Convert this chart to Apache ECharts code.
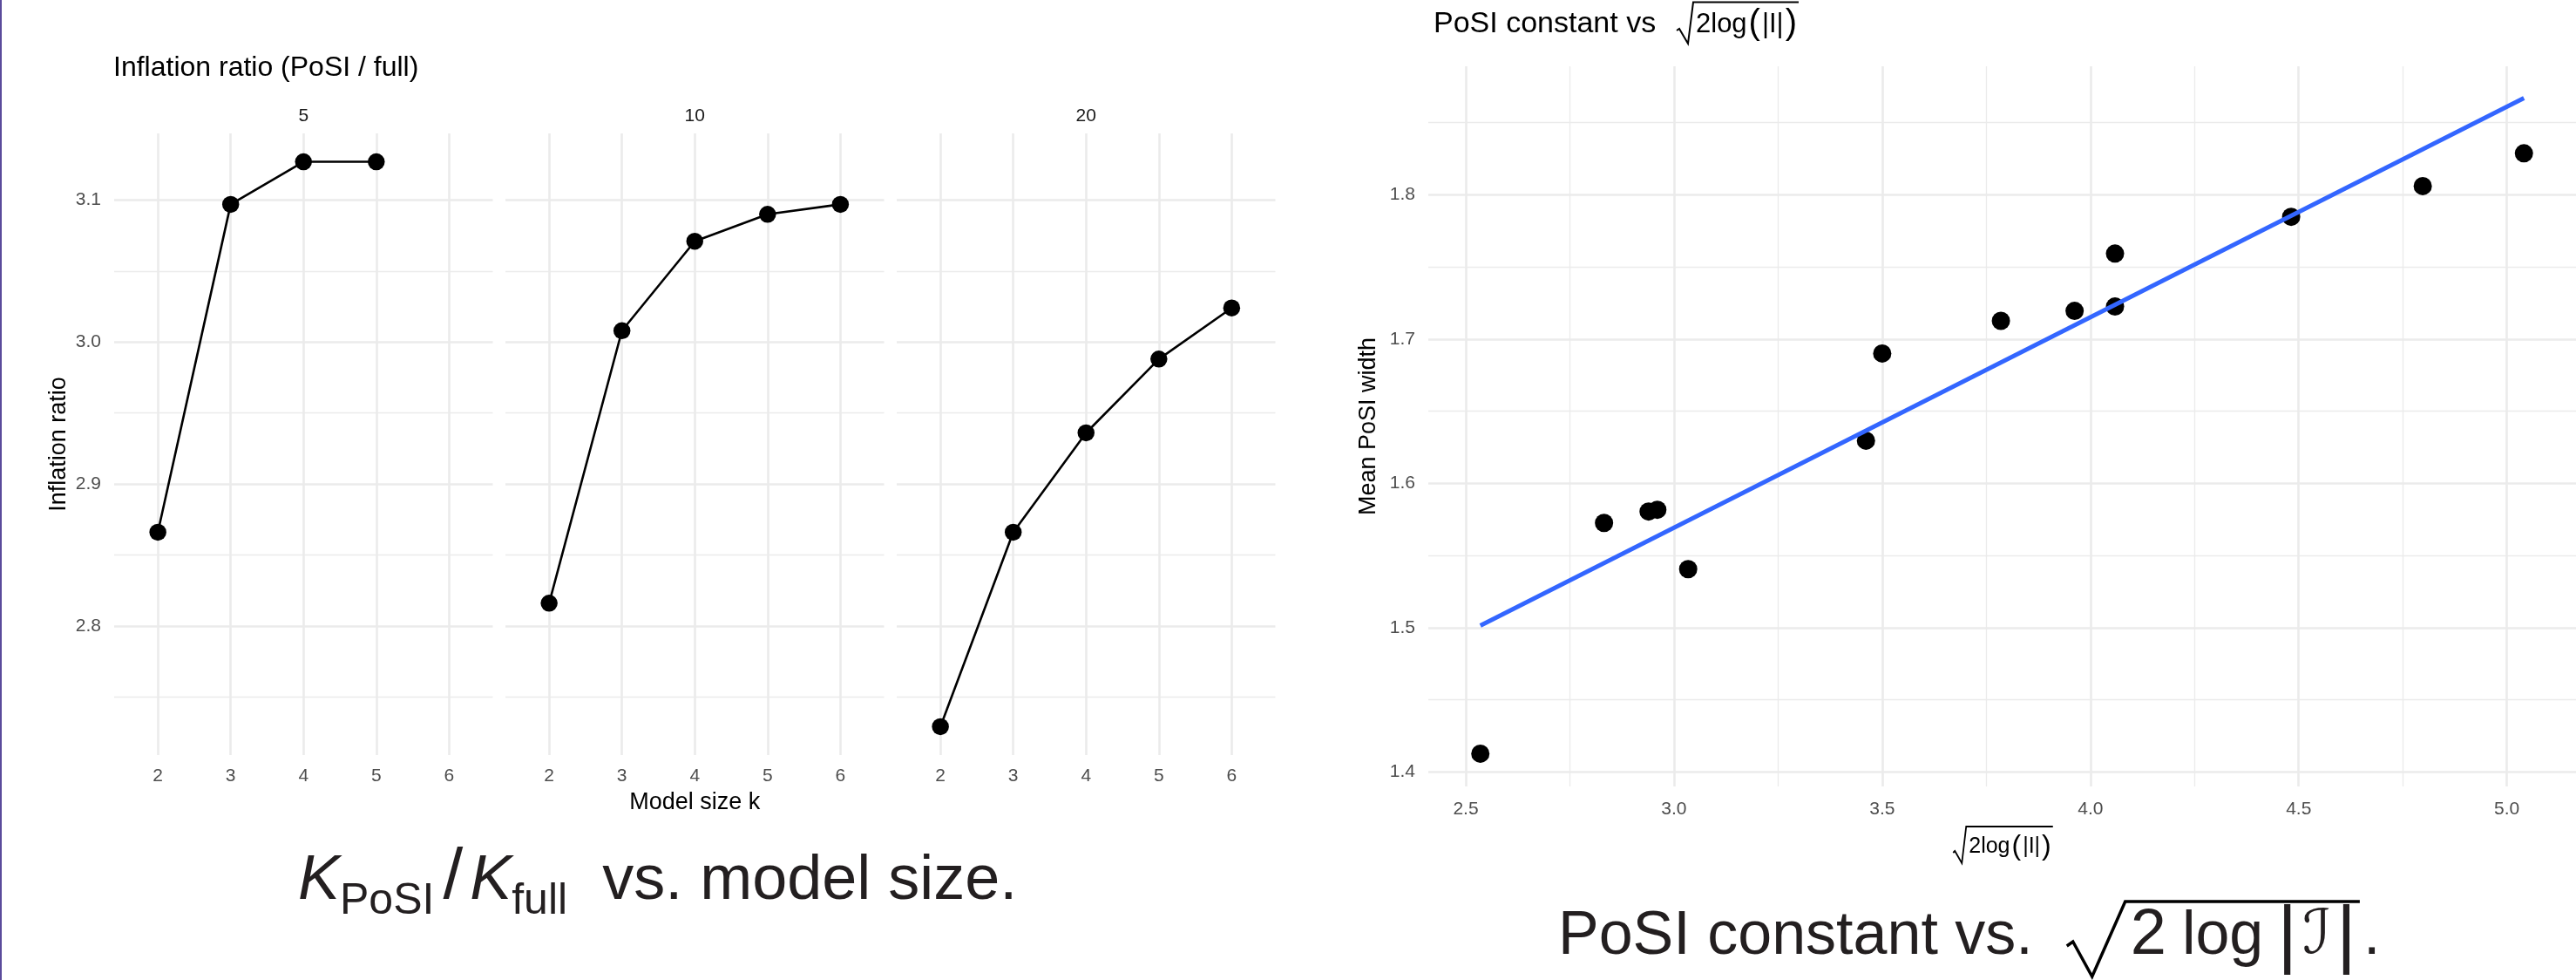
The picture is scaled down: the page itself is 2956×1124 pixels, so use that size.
<!DOCTYPE html>
<html>
<head>
<meta charset="utf-8">
<script src="https://cdn.jsdelivr.net/npm/echarts@6/dist/echarts.min.js"></script>
<style>
html,body{margin:0;padding:0;background:#ffffff;}
#c{width:2956px;height:1124px;}
</style>
</head>
<body>
<div id="c"></div>
<script>
// ---------------- data ----------------
const kValues = [2, 3, 4, 5, 6];
const facetLabels = ['5', '10', '20'];
const ratioFacet5  = [2.866, 3.097, 3.127, 3.127, null];
const ratioFacet10 = [2.816, 3.008, 3.071, 3.090, 3.097];
const ratioFacet20 = [2.729, 2.866, 2.936, 2.988, 3.024];

const sqrtLogI      = [2.535, 2.832, 2.939, 2.960, 3.034, 3.461, 3.500, 3.785, 3.962, 4.059, 4.059, 4.482, 4.798, 5.041];
const meanPosiWidth = [1.4127, 1.5726, 1.5805, 1.5817, 1.5406, 1.6296, 1.690, 1.7126, 1.7195, 1.7225, 1.7592, 1.7847, 1.806, 1.8287];

// fitted lm line (endpoints)
const fitX = [2.535, 5.041];
const fitY = [1.5015, 1.8669];

// ---------------- styling ----------------
const FONT = "'Liberation Sans', Arial, Helvetica, sans-serif";
const GRID_C = '#EBEBEB';
const MAJOR_W = 2.6, MINOR_W = 1.3;

const leftPanelX = [131, 580, 1029];
const leftPanelW = 434.5;
const leftTop = 153, leftH = 713;
const right = {left: 1639, top: 76, width: 1317, height: 826};

const facetSeries = [ratioFacet5, ratioFacet10, ratioFacet20];

function labelStyle(extra) {
  return Object.assign({fontSize: 21, color: '#4D4D4D', fontFamily: FONT,
    showMinLabel: false, showMaxLabel: false}, extra);
}
function splitLineStyle() {
  return {show: true, showMinLine: false, showMaxLine: false, lineStyle: {color: GRID_C, width: MAJOR_W}};
}
const nameStyle = {fontSize: 27, color: '#000000', fontFamily: FONT};

const grids = [], xAxes = [], yAxes = [], series = [];

leftPanelX.forEach((x, i) => {
  grids.push({left: x, top: leftTop, width: leftPanelW, height: leftH, containLabel: false});
  xAxes.push({
    type: 'value', gridIndex: i, min: 1.4, max: 6.6, splitNumber: 5,
    axisLine: {show: false}, axisTick: {show: false},
    axisLabel: labelStyle({margin: 14, formatter: v => String(Math.round(v))}),
    splitLine: splitLineStyle(),
    name: i === 1 ? 'Model size k' : '', nameLocation: 'middle', nameGap: 41, nameTextStyle: nameStyle
  });
  yAxes.push({
    type: 'value', gridIndex: i, min: 2.709, max: 3.147, splitNumber: 5,
    axisLine: {show: false}, axisTick: {show: false},
    axisLabel: labelStyle({show: i === 0, margin: 15, formatter: v => v.toFixed(1)}),
    splitLine: splitLineStyle(),
    minorTick: {show: false, splitNumber: 2},
    minorSplitLine: {show: true, lineStyle: {color: GRID_C, width: MINOR_W}},
    name: i === 0 ? 'Inflation ratio' : '', nameLocation: 'middle', nameGap: 50, nameTextStyle: nameStyle
  });
  const data = kValues.map((k, j) => [k, facetSeries[i][j]]).filter(d => d[1] !== null);
  series.push({
    type: 'line', xAxisIndex: i, yAxisIndex: i, data: data,
    symbol: 'circle', symbolSize: 19.5, showSymbol: true,
    itemStyle: {color: '#000000', opacity: 1}, lineStyle: {color: '#000000', width: 2.6},
    silent: true
  });
});

// right panel
grids.push({left: right.left, top: right.top, width: right.width, height: right.height});
xAxes.push({
  type: 'value', gridIndex: 3, min: 2.41, max: 5.166, splitNumber: 5,
  axisLine: {show: false}, axisTick: {show: false},
  axisLabel: labelStyle({margin: 16, formatter: v => v.toFixed(1)}),
  splitLine: splitLineStyle(),
  minorTick: {show: false, splitNumber: 2},
  minorSplitLine: {show: true, lineStyle: {color: GRID_C, width: MINOR_W}}
});
yAxes.push({
  type: 'value', gridIndex: 3, min: 1.390, max: 1.889, splitNumber: 5,
  axisLine: {show: false}, axisTick: {show: false},
  axisLabel: labelStyle({margin: 15, formatter: v => v.toFixed(1)}),
  splitLine: splitLineStyle(),
  minorTick: {show: false, splitNumber: 2},
  minorSplitLine: {show: true, lineStyle: {color: GRID_C, width: MINOR_W}},
  name: 'Mean PoSI width', nameLocation: 'middle', nameGap: 55, nameTextStyle: nameStyle
});
series.push({
  type: 'scatter', xAxisIndex: 3, yAxisIndex: 3,
  data: sqrtLogI.map((x, i) => [x, meanPosiWidth[i]]),
  symbol: 'circle', symbolSize: 21, itemStyle: {color: '#000000', opacity: 1}, z: 2, silent: true
});
series.push({
  type: 'line', xAxisIndex: 3, yAxisIndex: 3,
  data: fitX.map((x, i) => [x, fitY[i]]),
  showSymbol: false, symbol: 'none', lineStyle: {color: '#3366FF', width: 5}, z: 3, silent: true
});

// ---------------- text helpers ----------------
const mctx = document.createElement('canvas').getContext('2d');
function fontStr(it) {
  return (it.italic ? 'italic' : 'normal') + ' ' + (it.bold ? 'bold' : 'normal') + ' ' + it.size + 'px ' + (it.family || FONT);
}
function measure(it) { mctx.font = fontStr(it); return mctx.measureText(it.text).width; }
function runsWidth(items) {
  let w = 0; items.forEach(it => { w += (it.gap || 0) + measure(it); }); return w;
}
function layoutRuns(x0, baseline, items, color, out) {
  let x = x0;
  items.forEach(it => {
    x += it.gap || 0;
    const w = measure(it);
    out.push({
      type: 'text', x: x, y: baseline + (it.dy || 0) - 0.3465 * it.size, silent: true,
      style: {text: it.text, font: fontStr(it), fill: it.color || color,
        textAlign: 'left', align: 'left', textVerticalAlign: 'middle', verticalAlign: 'middle'}
    });
    x += w;
  });
  return x;
}
function radical(xr, w, yTop, yBot, p) {
  const D = [xr - p.pad, yTop];
  const C = [D[0] - p.dc, yBot];
  const B = [C[0] - p.cb, yBot - p.by];
  const A = [B[0] - p.ab, B[1] + p.ay];
  const E = [xr + w + p.padR, yTop];
  return {type: 'polyline', silent: true, shape: {points: [A, B, C, D, E]},
    style: {stroke: '#000000', fill: 'none', lineWidth: p.lw, lineJoin: 'miter'}};
}

const gfx = [];
// slide border
gfx.push({type: 'rect', silent: true, shape: {x: 0, y: 0, width: 2, height: 1124}, style: {fill: '#5A4B9B'}});

// left title
layoutRuns(130, 89.3, [{text: 'Inflation ratio (PoSI / full)', size: 32}], '#000000', gfx);

// facet strip labels
facetLabels.forEach((lab, i) => {
  gfx.push({type: 'text', silent: true, x: leftPanelX[i] + leftPanelW / 2, y: 133.7,
    style: {text: lab, font: 'normal normal 21px ' + FONT, fill: '#1A1A1A',
      textAlign: 'center', align: 'center', textVerticalAlign: 'middle', verticalAlign: 'middle'}});
});

// right title with radical
const titleEnd = layoutRuns(1645, 39, [{text: 'PoSI constant vs', size: 34}], '#000000', gfx);
const titleRad = [{text: '2log', size: 31}, {text: '(', size: 40, gap: 2, dy: 3},
  {text: '|I|', size: 31, gap: 2}, {text: ')', size: 40, gap: 2, dy: 3}];
const trX = Math.max(titleEnd + 44, 1946);
const trW = runsWidth(titleRad);
layoutRuns(trX, 39, titleRad, '#000000', gfx);
gfx.push(radical(trX, trW, 2.5, 50, {pad: 3, dc: 6, cb: 10, by: 17, ab: 3, ay: 2, padR: 2, lw: 2}));

// right x axis title with radical
const axRad = [{text: '2log', size: 25}, {text: '(', size: 32, gap: 2, dy: 2},
  {text: '|I|', size: 25, gap: 2}, {text: ')', size: 32, gap: 2, dy: 2}];
const axW = runsWidth(axRad);
const axCenter = right.left + right.width / 2;
const axX = axCenter - (18 + axW) / 2 + 18;
layoutRuns(axX, 980, axRad, '#000000', gfx);
gfx.push(radical(axX, axW, 948, 990, {pad: 3, dc: 5, cb: 8, by: 14, ab: 2, ay: 2, padR: 2, lw: 1.8}));

// left caption
const CAP_C = '#231F20';
layoutRuns(342, 1036, [
  {text: 'K', size: 72, italic: true},
  {text: 'PoSI', size: 50, dy: 16},
  {text: '/', size: 82, gap: 10},
  {text: 'K', size: 72, italic: true, gap: 8},
  {text: 'full', size: 50, dy: 16},
  {text: 'vs. model size.', size: 72, gap: 40}
], CAP_C, gfx);

// right caption
const capEnd = layoutRuns(1788, 1099, [{text: 'PoSI constant vs.', size: 70}], CAP_C, gfx);
const capRad = [
  {text: '2', size: 74},
  {text: 'log', size: 70, gap: 18},
  {text: '|', size: 88, gap: 16, dy: 7},
  {text: 'ℐ', size: 70, gap: 6, italic: true, family: "'DejaVu Serif', 'DejaVu Sans', serif"},
  {text: '|', size: 88, gap: 6, dy: 7}
];
const crX = capEnd + 112;
const crW = runsWidth(capRad);
layoutRuns(crX, 1099, capRad, CAP_C, gfx);
gfx.push(radical(crX, crW, 1034, 1120, {pad: 6, dc: 38, cb: 22, by: 40, ab: 7, ay: 5, padR: 4, lw: 3.5}));
layoutRuns(crX + crW + 4, 1099, [{text: '.', size: 70, gap: 4}], CAP_C, gfx);

const chart = echarts.init(document.getElementById('c'), null, {renderer: 'canvas', width: 2956, height: 1124});
chart.setOption({
  animation: false,
  backgroundColor: '#ffffff',
  textStyle: {fontFamily: FONT},
  grid: grids,
  xAxis: xAxes,
  yAxis: yAxes,
  series: series,
  graphic: {elements: gfx}
});
</script>
</body>
</html>
